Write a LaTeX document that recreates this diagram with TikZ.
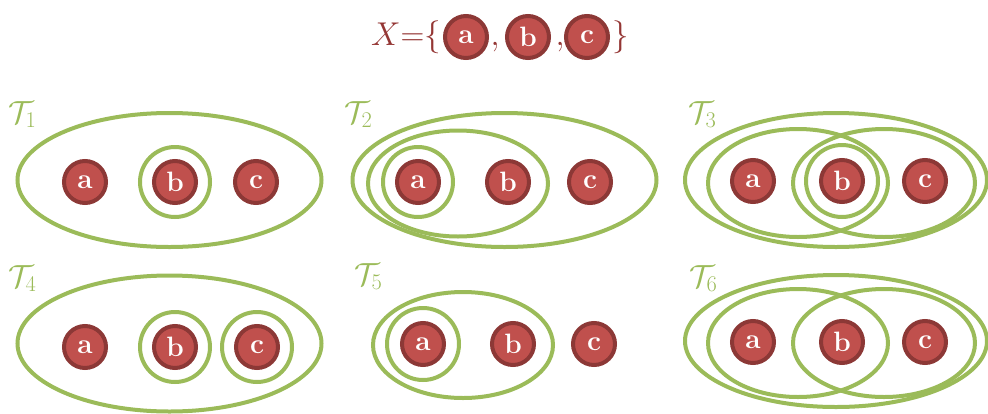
\documentclass[tikz,border=0pt]{standalone}
\usepackage{fix-cm}
\usepackage{amsmath,amssymb}
\usepackage{fontspec}
\usepackage{xcolor}
\usetikzlibrary{positioning,calc}
\definecolor{setgreen}{HTML}{9BBB59}
\definecolor{elemfill}{HTML}{C0504D}
\definecolor{elemedge}{HTML}{8C3836}
\definecolor{titlered}{HTML}{943634}

\begin{document}
\begin{tikzpicture}[x=1pt, y=-1pt,
  el/.style={circle,draw=elemedge,fill=elemfill,line width=4pt,inner sep=0pt,minimum size=42pt,text=white,font=\bfseries\fontsize{28}{28}\selectfont},
  grp/.style={draw=setgreen,line width=4pt},
  tl/.style={text=setgreen,font=\fontsize{32}{32}\selectfont,anchor=base west,inner sep=0pt},
  xt/.style={text=titlered,font=\fontsize{33}{33}\selectfont,inner sep=0pt}]
  \useasboundingbox (0,0) rectangle (988,413);
  %--- X (top) ---
  \node[xt,anchor=east] (xeq) at (441,37) {$X{=}\{$};
  \node[el] (xa) at (466,37) {a};
  \node[xt,anchor=base] (xc1) at (495,45) {$,$};
  \node[el] (xb) at (528,37) {b};
  \node[xt,anchor=base] (xc2) at (560,45) {$,$};
  \node[el] (xc) at (587,37) {c};
  \node[xt,anchor=west] (xend) at (612,37) {$\}$};
  %--- T1 ---
  \node[tl] (t1) at (8,123) {$\mathcal{T}_1$};
  \node[el] (a1) at (85,182)  {a};
  \node[el] (b1) at (175,182) {b};
  \node[el] (c1) at (256,182) {c};
  \draw[grp] (169.5,180) ellipse [x radius=152, y radius=67];
  \draw[grp] (b1) circle [radius=35];
  %--- T2 ---
  \node[tl] (t2) at (344,123) {$\mathcal{T}_2$};
  \node[el] (a2) at (418,182) {a};
  \node[el] (b2) at (508,182) {b};
  \node[el] (c2) at (590,182) {c};
  \draw[grp] (504.5,180) ellipse [x radius=152, y radius=67];
  \draw[grp] (458,183.5) ellipse [x radius=90, y radius=53];
  \draw[grp] (a2) circle [radius=35];
  %--- T3 ---
  \node[tl] (t3) at (688,123) {$\mathcal{T}_3$};
  \node[el] (a3) at (753,181) {a};
  \node[el] (b3) at (842,181) {b};
  \node[el] (c3) at (925,181) {c};
  \draw[grp] (836,180) ellipse [x radius=151, y radius=67];
  \draw[grp] (798,183) ellipse [x radius=90, y radius=54];
  \draw[grp] (884,183) ellipse [x radius=91, y radius=54];
  \draw[grp] (b3) circle [radius=36];
  %--- T4 ---
  \node[tl] (t4) at (8,287) {$\mathcal{T}_4$};
  \node[el] (a4) at (85,347)  {a};
  \node[el] (b4) at (175,347) {b};
  \node[el] (c4) at (257,347) {c};
  \draw[grp] (169.5,343.5) ellipse [x radius=152, y radius=68];
  \foreach \n in {b4,c4} \draw[grp] (\n) circle [radius=35];
  %--- T5 ---
  \node[tl] (t5) at (354,285) {$\mathcal{T}_5$};
  \node[el] (a5) at (423,344) {a};
  \node[el] (b5) at (513,344) {b};
  \node[el] (c5) at (594,344) {c};
  \draw[grp] (463,345) ellipse [x radius=90, y radius=53];
  \draw[grp] (a5) circle [radius=36];
  %--- T6 ---
  \node[tl] (t6) at (689,287) {$\mathcal{T}_6$};
  \node[el] (a6) at (753,342) {a};
  \node[el] (b6) at (842,342) {b};
  \node[el] (c6) at (925,342) {c};
  \draw[grp] (836,341) ellipse [x radius=151, y radius=66];
  \draw[grp] (798,343) ellipse [x radius=90, y radius=54];
  \draw[grp] (884,343) ellipse [x radius=91, y radius=54];
\end{tikzpicture}
\end{document}
